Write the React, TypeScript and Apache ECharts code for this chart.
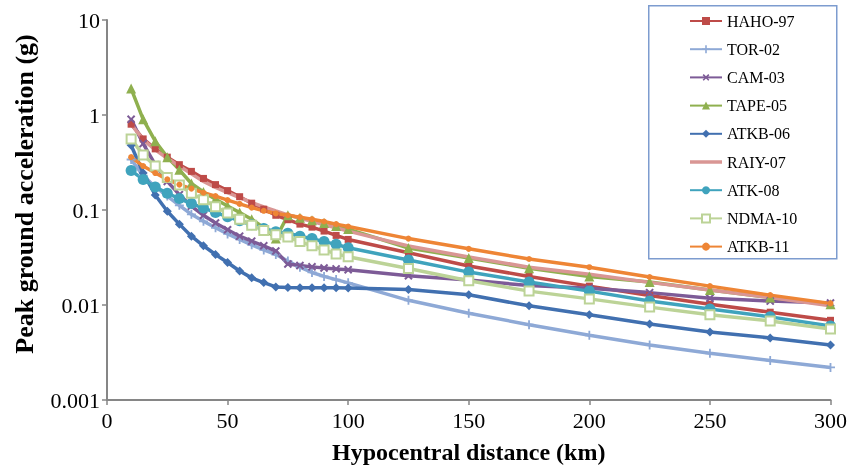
import React, { useEffect, useRef } from "react";
import * as echarts from "echarts";

const distances = [10, 15, 20, 25, 30, 35, 40, 45, 50, 55, 60, 65, 70, 75, 80, 85, 90, 95, 100, 125, 150, 175, 200, 225, 250, 275, 300];

const haho97 = [0.8, 0.56, 0.44, 0.36, 0.3, 0.255, 0.215, 0.185, 0.16, 0.138, 0.118, 0.102, 0.088, 0.079, 0.071, 0.066, 0.06, 0.054, 0.049, 0.0355, 0.0257, 0.02, 0.0158, 0.0126, 0.0102, 0.0084, 0.0069];
const tor02 = [0.34, 0.23, 0.175, 0.14, 0.112, 0.09, 0.076, 0.065, 0.056, 0.049, 0.043, 0.038, 0.034, 0.029, 0.025, 0.022, 0.02, 0.0185, 0.0171, 0.0112, 0.0082, 0.0062, 0.0048, 0.0038, 0.0031, 0.0026, 0.0022];
const cam03 = [0.9, 0.5, 0.3, 0.2, 0.145, 0.11, 0.088, 0.073, 0.062, 0.053, 0.047, 0.042, 0.037, 0.027, 0.026, 0.0252, 0.0245, 0.024, 0.0235, 0.0203, 0.0183, 0.016, 0.015, 0.0135, 0.0118, 0.011, 0.0105];
const tape05 = [1.9, 0.9, 0.53, 0.36, 0.265, 0.19, 0.155, 0.13, 0.11, 0.094, 0.08, 0.065, 0.05, 0.088, 0.083, 0.078, 0.073, 0.068, 0.063, 0.0398, 0.0313, 0.0243, 0.02, 0.0175, 0.0144, 0.012, 0.0102];
const atkb06 = [0.48, 0.245, 0.144, 0.097, 0.071, 0.053, 0.042, 0.034, 0.028, 0.0228, 0.0193, 0.0172, 0.0155, 0.0153, 0.0152, 0.0152, 0.0152, 0.0152, 0.0151, 0.0146, 0.0128, 0.0098, 0.0079, 0.0063, 0.0052, 0.0045, 0.0038];
const raiy07 = [0.8, 0.55, 0.43, 0.35, 0.29, 0.24, 0.2, 0.173, 0.152, 0.135, 0.12, 0.108, 0.098, 0.089, 0.082, 0.076, 0.07, 0.065, 0.06, 0.0418, 0.032, 0.025, 0.0211, 0.0173, 0.0144, 0.012, 0.0098];
const atk08 = [0.26, 0.21, 0.175, 0.15, 0.132, 0.117, 0.105, 0.094, 0.085, 0.077, 0.07, 0.064, 0.059, 0.057, 0.053, 0.05, 0.0465, 0.0435, 0.04, 0.0298, 0.0222, 0.0175, 0.014, 0.011, 0.0091, 0.0075, 0.006];
const ndma10 = [0.56, 0.38, 0.29, 0.22, 0.183, 0.15, 0.128, 0.108, 0.093, 0.08, 0.069, 0.061, 0.055, 0.052, 0.0465, 0.042, 0.038, 0.0345, 0.0322, 0.0242, 0.018, 0.014, 0.0116, 0.0095, 0.0079, 0.0068, 0.0056];
const atkb11 = [0.36, 0.29, 0.245, 0.21, 0.185, 0.168, 0.152, 0.14, 0.127, 0.116, 0.106, 0.098, 0.092, 0.088, 0.084, 0.08, 0.0757, 0.071, 0.067, 0.05, 0.039, 0.0305, 0.025, 0.0197, 0.0158, 0.0127, 0.0104];

const seriesNames = ["HAHO-97", "TOR-02", "CAM-03", "TAPE-05", "ATKB-06", "RAIY-07", "ATK-08", "NDMA-10", "ATKB-11"];
const seriesValues = [haho97, tor02, cam03, tape05, atkb06, raiy07, atk08, ndma10, atkb11];
const seriesColors = ["#BE4B48", "#8EA9D6", "#7D5B97", "#8FB04F", "#4170B0", "#D99694", "#3FA3BD", "#BCD397", "#EE8535"];

const PLUS = "path://M4,0L6,0L6,4L10,4L10,6L6,6L6,10L4,10L4,6L0,6L0,4L4,4Z";
const LINE_ONLY = "path://M0,0L0.01,0L0,0.01Z M0,3.25L32,3.25L32,6.75L0,6.75Z M32,10L31.99,10L32,9.99Z";
const seriesSymbols = ["rect", PLUS, PLUS, "triangle", "diamond", "none", "circle", "emptyRect", "circle"];
const seriesSymbolSizes = [7, 9, 10, 10, 9, 0, 11, 9, 6];
const seriesSymbolRotate = [0, 0, 45, 0, 0, 0, 0, 0, 0];

const FONT = "'Liberation Serif', 'Times New Roman', serif";

export default function App() {
  const ref = useRef<HTMLDivElement>(null);
  useEffect(() => {
    if (!ref.current) return;
    const chart = echarts.init(ref.current, null, { renderer: "svg" });
    const series = seriesNames.map((name, i) => ({
      name,
      type: "line",
      data: distances.map((d, j) => [d, seriesValues[i][j]]),
      symbol: seriesSymbols[i],
      symbolSize: seriesSymbolSizes[i],
      symbolRotate: seriesSymbolRotate[i],
      showSymbol: seriesSymbols[i] !== "none",
      color: seriesColors[i],
      lineStyle: { width: 3.5, color: seriesColors[i] },
      itemStyle: seriesSymbols[i] === "emptyRect" ? { color: seriesColors[i], borderWidth: 1.5 } : { color: seriesColors[i] },
      emphasis: { disabled: true },
    }));
    const legendData = seriesNames.map((name, i) =>
      seriesSymbols[i] === "none" ? { name, icon: LINE_ONLY } : { name }
    );
    chart.setOption({
      animation: false,
      grid: { left: 107, right: 17, top: 20, bottom: 73 },
      xAxis: {
        type: "value",
        min: 0,
        max: 300,
        interval: 50,
        name: "Hypocentral distance (km)",
        nameLocation: "middle",
        nameGap: 40,
        nameTextStyle: { fontFamily: FONT, fontSize: 24, fontWeight: "bold", color: "#000" },
        axisLine: { onZero: false, lineStyle: { color: "#868686", width: 2 } },
        axisTick: { show: true, length: 5, lineStyle: { color: "#868686", width: 1.5 } },
        axisLabel: { fontFamily: FONT, fontSize: 22, color: "#000", margin: 9 },
        splitLine: { show: false },
      },
      yAxis: {
        type: "log",
        logBase: 10,
        min: 0.001,
        max: 10,
        name: "Peak ground acceleration (g)",
        nameLocation: "middle",
        nameGap: 70,
        nameTextStyle: { fontFamily: FONT, fontSize: 26, fontWeight: "bold", color: "#000", padding: [0, 0, 0, 32] },
        axisLine: { show: true, lineStyle: { color: "#868686", width: 2 } },
        axisTick: { show: true, length: 5, lineStyle: { color: "#868686", width: 1.5 } },
        axisLabel: {
          fontFamily: FONT,
          fontSize: 22,
          color: "#000",
          margin: 7,
          formatter: (v: number) => String(parseFloat(v.toPrecision(2))),
        },
        splitLine: { show: false },
        minorTick: { show: false },
      },
      legend: {
        orient: "vertical",
        left: 689,
        top: 13,
        itemWidth: 32,
        itemHeight: 10,
        itemGap: 12.2,
        padding: 0,
        data: legendData,
        textStyle: { fontFamily: FONT, fontSize: 16, color: "#000", lineHeight: 16 },
      },
      graphic: [
        {
          type: "rect",
          left: 648,
          top: 5,
          z: 3,
          shape: { width: 188, height: 253 },
          style: { fill: "#fff", stroke: "#7D9CCF", lineWidth: 1.5 },
        },
      ],
      series,
    });
    return () => chart.dispose();
  }, []);
  return <div ref={ref} style={{ position: "fixed", left: 0, top: 0, width: 850, height: 473 }} />;
}
